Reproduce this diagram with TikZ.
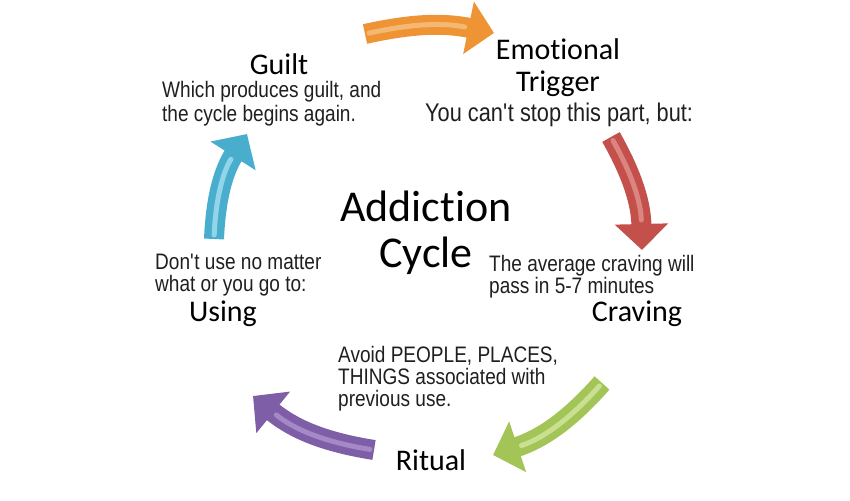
\documentclass[tikz,border=0pt]{standalone}
\usepackage{fontspec}
\setmainfont{Liberation Sans}[FakeStretch=0.85]
\newfontfamily\headfont{Carlito}[Ligatures=NoCommon]
\usetikzlibrary{arrows.meta,positioning}

\definecolor{orangeArrow}{HTML}{EE9435}
\definecolor{orangeShine}{HTML}{F5B872}
\definecolor{redArrow}{HTML}{C4504B}
\definecolor{redShine}{HTML}{DB8580}
\definecolor{greenArrow}{HTML}{A3C558}
\definecolor{greenShine}{HTML}{C8E090}
\definecolor{purpleArrow}{HTML}{7D5EA7}
\definecolor{purpleShine}{HTML}{A489C6}
\definecolor{blueArrow}{HTML}{49AECE}
\definecolor{blueShine}{HTML}{92D4E8}

\begin{document}
\begin{tikzpicture}[x=1pt,y=1pt,
        heading/.style={
            inner sep=0pt, align=center, text=black, font=\headfont\fontsize{30}{32}\selectfont
        },
        note/.style={
            inner sep=0pt, align=left, text=black!88, font=\fontsize{22.4}{22}\selectfont
        },
        title/.style={
            inner sep=0pt, align=center, text=black, font=\headfont\fontsize{44}{46}\selectfont
        },
        cyclearrow/.style={
            line width=20pt, -{Triangle[width=52pt,length=26pt]}
        },
        shine/.style={
            line width=5pt, line cap=round, shorten >=30pt, shorten <=4pt
        },
    ]
    \useasboundingbox (0,0) rectangle (850,500);

    \node (cycleTitle) [title,anchor=base] at (426,232) {Addiction \\ Cycle};

    \node (trigger) [heading,anchor=base] at (558,408) {Emotional \\ Trigger};
    \node (triggerNote) [note,anchor=base west,font=\fontsize{25.6}{25}\selectfont] at (425,378) {You can\textquotesingle t stop this part, but:};

    \node (craving) [heading,anchor=base] at (637,178) {Craving};
    \node (cravingNote) [note,anchor=base west] at (489,206) {The average craving will \\ pass in 5-7 minutes};

    \node (ritual) [heading,anchor=base] at (431,30) {Ritual};
    \node (ritualNote) [note,anchor=base west] at (338,93) {Avoid PEOPLE, PLACES, \\ THINGS associated with \\ previous use.};

    \node (usingHead) [heading,anchor=base] at (223,178) {Using};
    \node (usingNote) [note,anchor=base west] at (155,208) {Don\textquotesingle t use no matter \\ what or you go to:};

    \node (guilt) [heading,anchor=base] at (279,425) {Guilt};
    \node (guiltNote) [note,anchor=base west,font=\fontsize{22.4}{24.5}\selectfont] at (162,378) {Which produces guilt, and \\ the cycle begins again.};

    % block arrows round the cycle
    \coordinate (orangeTail) at (365,466);
    \coordinate (orangeTip) at (494,467);
    \draw[cyclearrow,orangeArrow] (orangeTail) to[bend left=12] (orangeTip);
    \draw[shine,orangeShine] (orangeTail) to[bend left=12] (orangeTip);

    \coordinate (redTail) at (611,363);
    \coordinate (redTip) at (642,250);
    \draw[cyclearrow,redArrow] (redTail) to[bend left=14] (redTip);
    \draw[shine,redShine] (redTail) to[bend left=14] (redTip);

    \coordinate (greenTail) at (602,117);
    \coordinate (greenTip) at (493,45);
    \draw[cyclearrow,greenArrow] (greenTail) to[bend left=15] (greenTip);
    \draw[shine,greenShine] (greenTail) to[bend left=15] (greenTip);

    \coordinate (purpleTail) at (374,50);
    \coordinate (purpleTip) at (253,104);
    \draw[cyclearrow,purpleArrow] (purpleTail) to[bend left=15] (purpleTip);
    \draw[shine,purpleShine] (purpleTail) to[bend left=15] (purpleTip);

    \coordinate (blueTail) at (214,261);
    \coordinate (blueTip) at (247,366);
    \draw[cyclearrow,blueArrow] (blueTail) to[bend left=15] (blueTip);
    \draw[shine,blueShine] (blueTail) to[bend left=15] (blueTip);

    \end{tikzpicture}
\end{document}
